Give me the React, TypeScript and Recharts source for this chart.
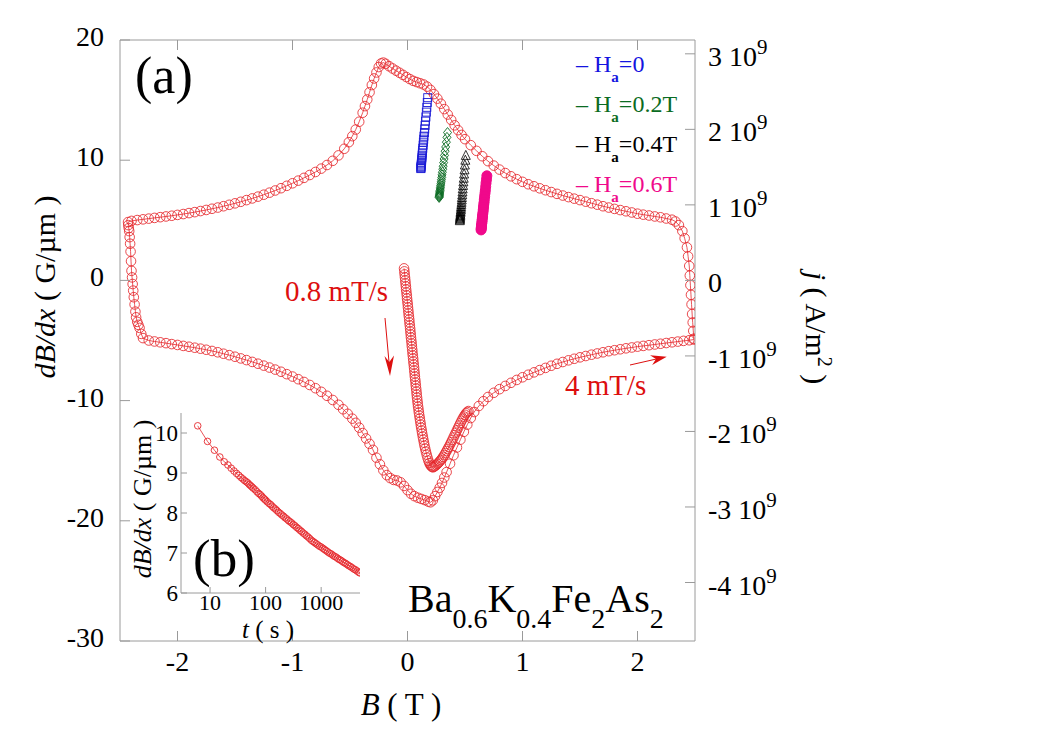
import React from 'react';
import { ScatterChart, Scatter, XAxis, YAxis } from 'recharts';

const SERIF = "'Liberation Serif', 'Times New Roman', Times, serif";
const AXIS_GREY = '#9a9a9a';
const LOOP_RED = '#e5282d';
const TEXT_RED = '#dd0f0f';

// axis ticks
const bTicks = [-2, -1, 0, 1, 2];
const dbdxTicks = [-30, -20, -10, 0, 10, 20];
const jTicks = [-4e9, -3e9, -2e9, -1e9, 0, 1e9, 2e9, 3e9];
const J_PER_G = 1.5915e8; // A/m^2 per G/um (2/mu0 * 100 T/m)
const insetTTicks = [10, 100, 1000];
const insetYTicks = [6, 7, 8, 9, 10];

// main loop, 4 mT/s : upper branch (B going down from +2.5)
const upperB = [2.49, 2.485, 2.48, 2.475, 2.47, 2.465, 2.46, 2.455, 2.45, 2.44, 2.43, 2.41, 2.39, 2.36, 2.33, 2.3,
  2.25, 2.2, 2.15, 2.1, 2.05, 2.0, 1.95, 1.9, 1.85, 1.8, 1.75, 1.7, 1.65, 1.6, 1.55, 1.5, 1.45, 1.4, 1.35, 1.3,
  1.25, 1.2, 1.15, 1.1, 1.05, 1.0, 0.95, 0.9, 0.85, 0.8, 0.75, 0.7, 0.65, 0.6, 0.55, 0.5, 0.47, 0.44, 0.41, 0.38,
  0.35, 0.32, 0.29, 0.26, 0.23, 0.2, 0.17, 0.14, 0.11, 0.08, 0.05, 0.02, -0.01, -0.04, -0.07, -0.1, -0.13, -0.16,
  -0.19, -0.21, -0.23, -0.25, -0.27, -0.29, -0.31, -0.33, -0.35, -0.37, -0.39, -0.42, -0.45, -0.48, -0.51, -0.55,
  -0.6, -0.65, -0.7, -0.75, -0.8, -0.85, -0.9, -0.95, -1.0, -1.05, -1.1, -1.15, -1.2, -1.25, -1.3, -1.35, -1.4,
  -1.45, -1.5, -1.55, -1.6, -1.65, -1.7, -1.75, -1.8, -1.85, -1.9, -1.95, -2.0, -2.05, -2.1, -2.15, -2.2, -2.25,
  -2.3, -2.35, -2.4, -2.43];
const upperY = [-4.85, -4.2, -3.5, -2.8, -2.0, -1.2, -0.4, 0.4, 1.2, 2.0, 2.75, 3.5, 4.1, 4.6, 4.9, 5.05,
  5.15, 5.25, 5.32, 5.4, 5.47, 5.55, 5.65, 5.75, 5.85, 5.95, 6.06, 6.17, 6.3, 6.42, 6.55, 6.68, 6.8, 6.93, 7.06, 7.2,
  7.35, 7.5, 7.66, 7.83, 8.0, 8.2, 8.42, 8.66, 8.93, 9.22, 9.55, 9.92, 10.33, 10.78, 11.25, 11.75, 12.1, 12.5, 12.9, 13.35,
  13.8, 14.25, 14.7, 15.12, 15.5, 15.85, 16.12, 16.3, 16.4, 16.5, 16.6, 16.75, 16.92, 17.1, 17.28, 17.45, 17.63, 17.82,
  18.02, 18.12, 18.05, 17.75, 17.3, 16.8, 16.25, 15.65, 15.05, 14.5, 13.95, 13.2, 12.55, 12.0, 11.5, 10.95,
  10.4, 9.95, 9.6, 9.3, 9.02, 8.77, 8.53, 8.3, 8.08, 7.87, 7.67, 7.48, 7.3, 7.13, 6.97, 6.82, 6.68,
  6.54, 6.41, 6.29, 6.17, 6.06, 5.96, 5.86, 5.77, 5.68, 5.6, 5.52, 5.45, 5.38, 5.32, 5.26, 5.2, 5.14,
  5.08, 5.02, 4.95, 4.85];

// turn-around at -2.5 T
const leftB = [-2.428, -2.424, -2.42, -2.416, -2.412, -2.408, -2.404, -2.4, -2.395, -2.39, -2.385, -2.38, -2.373,
  -2.366, -2.36, -2.35, -2.34, -2.33, -2.315, -2.3];
const leftY = [4.6, 4.35, 4.1, 3.6, 3.05, 2.4, 1.6, 0.8, 0.25, -0.3, -0.85, -1.4, -2.0, -2.6, -3.07, -3.45, -3.7,
  -3.95, -4.45, -4.8];

// lower branch (B going up)
const lowerB = [-2.25, -2.2, -2.15, -2.1, -2.05, -2.0, -1.95, -1.9, -1.85, -1.8, -1.75, -1.7, -1.65, -1.6, -1.55,
  -1.5, -1.45, -1.4, -1.35, -1.3, -1.25, -1.2, -1.15, -1.1, -1.05, -1.0, -0.95, -0.9, -0.85, -0.8, -0.75, -0.7,
  -0.65, -0.6, -0.56, -0.52, -0.48, -0.45, -0.42, -0.39, -0.36, -0.33, -0.3, -0.27, -0.24, -0.21, -0.18, -0.15,
  -0.12, -0.09, -0.06, -0.03, 0.0, 0.03, 0.06, 0.09, 0.12, 0.15, 0.18, 0.2, 0.22, 0.24, 0.26, 0.28, 0.3, 0.32, 0.34,
  0.37, 0.4, 0.43, 0.46, 0.49, 0.52, 0.55, 0.58, 0.62, 0.66, 0.7, 0.75, 0.8, 0.85, 0.9, 0.95, 1.0, 1.05, 1.1, 1.15,
  1.2, 1.25, 1.3, 1.35, 1.4, 1.45, 1.5, 1.55, 1.6, 1.65, 1.7, 1.75, 1.8, 1.85, 1.9, 1.95, 2.0, 2.05, 2.1, 2.15, 2.2,
  2.25, 2.3, 2.35, 2.4, 2.45, 2.49];
const lowerY = [-5.0, -5.08, -5.15, -5.22, -5.3, -5.37, -5.45, -5.52, -5.6, -5.68, -5.77, -5.87, -5.98, -6.1, -6.22,
  -6.35, -6.49, -6.63, -6.78, -6.93, -7.09, -7.25, -7.42, -7.6, -7.8, -8.0, -8.22, -8.45, -8.7, -8.97, -9.27, -9.6,
  -9.95, -10.35, -10.72, -11.1, -11.5, -11.85, -12.25, -12.7, -13.15, -13.6, -14.1, -14.75, -15.3, -15.8, -16.2, -16.45,
  -16.6, -16.65, -16.8, -17.1, -17.45, -17.75, -17.95, -18.08, -18.18, -18.28, -18.4, -18.46, -18.3, -17.95, -17.6,
  -17.25, -16.85, -16.4, -15.95, -15.25, -14.55, -13.9, -13.25, -12.6, -12.0, -11.45, -10.95, -10.45, -10.05, -9.7,
  -9.35, -9.05, -8.78, -8.52, -8.28, -8.06, -7.85, -7.65, -7.46, -7.28, -7.1, -6.94, -6.79, -6.65, -6.52, -6.4,
  -6.29, -6.18, -6.08, -5.98, -5.89, -5.81, -5.73, -5.65, -5.58, -5.51, -5.45, -5.39, -5.33, -5.27, -5.21, -5.15,
  -5.09, -5.03, -4.98, -4.92];

// slow sweep 0.8 mT/s starting near B = 0
const sweepB = [-0.03, -0.027, -0.025, -0.022, -0.019, -0.017, -0.014, -0.012, -0.009, -0.006, -0.004, -0.001, 0.002,
  0.004, 0.007, 0.009, 0.012, 0.015, 0.017, 0.02, 0.023, 0.025, 0.028, 0.03, 0.033, 0.036, 0.038, 0.041, 0.043, 0.046,
  0.049, 0.051, 0.054, 0.057, 0.059, 0.062, 0.064, 0.067, 0.07, 0.072, 0.075, 0.078, 0.08, 0.083, 0.086, 0.089,
  0.092, 0.096, 0.099, 0.103, 0.107, 0.111, 0.115, 0.119, 0.124, 0.128, 0.133, 0.138, 0.143, 0.148, 0.154, 0.16,
  0.167, 0.174, 0.182, 0.19, 0.198, 0.206, 0.214, 0.222, 0.23, 0.24, 0.25, 0.26, 0.27, 0.28, 0.29, 0.3, 0.31, 0.32,
  0.33, 0.34, 0.35, 0.36, 0.37, 0.38, 0.39, 0.4, 0.41, 0.42, 0.43, 0.44, 0.45, 0.46, 0.47, 0.48, 0.49, 0.5, 0.51,
  0.52, 0.53];
const sweepY = [1.0, 0.75, 0.5, 0.25, 0.0, -0.25, -0.5, -0.75, -1.0, -1.25, -1.5, -1.75, -2.0, -2.25, -2.5, -2.75,
  -3.0, -3.25, -3.5, -3.75, -4.0, -4.25, -4.5, -4.75, -5.0, -5.25, -5.5, -5.75, -6.0, -6.25, -6.5, -6.75, -7.0,
  -7.25, -7.5, -7.75, -8.0, -8.25, -8.5, -8.75, -9.0, -9.25, -9.5, -9.75, -10.0, -10.25, -10.5, -10.75, -11.0,
  -11.25, -11.5, -11.75, -12.0, -12.25, -12.5, -12.75, -13.0, -13.25, -13.5, -13.75, -14.0, -14.25, -14.5, -14.75,
  -15.0, -15.2, -15.35, -15.45, -15.52, -15.55, -15.5, -15.44, -15.36, -15.27, -15.17, -15.06, -14.94, -14.82,
  -14.68, -14.53, -14.37, -14.2, -14.02, -13.84, -13.65, -13.46, -13.27, -13.07, -12.87, -12.67, -12.47, -12.27,
  -12.07, -11.87, -11.68, -11.5, -11.33, -11.18, -11.05, -10.95, -10.87];

// relaxation runs at fixed applied field
const ha0B = [0.176, 0.172, 0.168, 0.164, 0.16, 0.156, 0.153, 0.15, 0.147, 0.143, 0.141, 0.138, 0.136, 0.133, 0.131,
  0.129, 0.127, 0.126, 0.124, 0.123, 0.121, 0.12, 0.119, 0.118, 0.117, 0.117, 0.116];
const ha0Y = [15.2, 14.8, 14.4, 14.0, 13.6, 13.25, 12.9, 12.6, 12.3, 12.0, 11.75, 11.5, 11.25, 11.0, 10.8, 10.6, 10.42,
  10.25, 10.1, 9.95, 9.82, 9.7, 9.6, 9.5, 9.42, 9.35, 9.3];
const ha2B = [0.348, 0.343, 0.338, 0.332, 0.327, 0.322, 0.318, 0.314, 0.31, 0.307, 0.303, 0.3, 0.298, 0.295, 0.293,
  0.29, 0.288, 0.286, 0.285, 0.283, 0.281, 0.28, 0.279, 0.278, 0.277, 0.276, 0.275];
const ha2Y = [12.3, 11.9, 11.5, 11.1, 10.75, 10.4, 10.1, 9.8, 9.5, 9.25, 9.0, 8.78, 8.57, 8.38, 8.2, 8.03, 7.88, 7.74,
  7.61, 7.49, 7.38, 7.28, 7.19, 7.11, 7.03, 6.96, 6.9];
const ha4B = [0.507, 0.503, 0.499, 0.496, 0.492, 0.489, 0.486, 0.483, 0.48, 0.478, 0.476, 0.473, 0.472, 0.47, 0.468,
  0.466, 0.465, 0.464, 0.462, 0.461, 0.46, 0.459, 0.458, 0.457, 0.457, 0.456, 0.455];
const ha4Y = [10.4, 10.0, 9.6, 9.2, 8.85, 8.5, 8.2, 7.9, 7.62, 7.36, 7.12, 6.9, 6.7, 6.5, 6.32, 6.15, 6.0, 5.86, 5.73,
  5.61, 5.5, 5.4, 5.31, 5.22, 5.14, 5.05, 4.97];
const ha6B = [0.69, 0.687, 0.683, 0.68, 0.677, 0.674, 0.671, 0.668, 0.666, 0.663, 0.661, 0.659, 0.657, 0.654, 0.653,
  0.651, 0.649, 0.648, 0.646, 0.644, 0.643, 0.642, 0.641, 0.64];
const ha6Y = [8.7, 8.4, 8.1, 7.8, 7.5, 7.25, 7.0, 6.75, 6.5, 6.3, 6.1, 5.9, 5.7, 5.5, 5.35, 5.2, 5.05, 4.9, 4.75, 4.6,
  4.5, 4.4, 4.3, 4.2];

// inset (b): relaxation dB/dx vs t (s)
const insetT = [6, 9, 12, 15, 18, 21, 24, 27, 30, 33, 36, 39, 42, 45, 48, 51, 54, 57, 60, 65, 70, 75, 80, 85, 90, 95,
  100, 107, 115, 123, 131, 140, 150, 160, 171, 183, 196, 210, 225, 241, 258, 276, 295, 316, 338, 362, 387, 414, 443,
  474, 507, 543, 581, 622, 665, 712, 762, 815, 872, 933, 998, 1068, 1143, 1223, 1309, 1400, 1498, 1603, 1715, 1835,
  1964, 2101, 2248, 2406, 2574, 2754, 2947, 3153, 3374, 3610, 3863, 4133, 4422, 4732, 5000];
const insetY = [10.18, 9.79, 9.57, 9.4, 9.28, 9.2, 9.12, 9.05, 8.99, 8.94, 8.89, 8.85, 8.81, 8.78, 8.75, 8.71, 8.68,
  8.65, 8.62, 8.58, 8.53, 8.49, 8.46, 8.42, 8.38, 8.35, 8.32, 8.28, 8.24, 8.21, 8.17, 8.13, 8.1, 8.06, 8.02, 7.99,
  7.95, 7.92, 7.88, 7.85, 7.81, 7.78, 7.75, 7.71, 7.68, 7.64, 7.61, 7.57, 7.54, 7.5, 7.47, 7.43, 7.4, 7.36, 7.32,
  7.29, 7.26, 7.23, 7.2, 7.17, 7.15, 7.12, 7.09, 7.06, 7.03, 7.0, 6.98, 6.95, 6.92, 6.9, 6.87, 6.84, 6.82, 6.79, 6.76,
  6.74, 6.71, 6.68, 6.66, 6.63, 6.6, 6.58, 6.55, 6.52, 6.5];

const zip = (xs: number[], ys: number[]) => xs.map((x, i) => ({ x, y: ys[i] }));
const loopData = [...zip(upperB, upperY), ...zip(leftB, leftY), ...zip(lowerB, lowerY)];
const sweepData = zip(sweepB, sweepY);
const insetData = zip(insetT, insetY);

const openCircle = (r: number, color: string, sw: number) => (p: any) =>
  p.cx == null ? <g /> : <circle cx={p.cx} cy={p.cy} r={r} fill="none" stroke={color} strokeWidth={sw} />;
const openSquare = (p: any) =>
  p.cx == null ? <g /> : <rect x={p.cx - 4} y={p.cy - 4} width={8} height={8} fill="none" stroke="#1a1ad6" strokeWidth={0.9} />;
const openDiamond = (p: any) =>
  p.cx == null ? <g /> : (
    <polygon points={`${p.cx},${p.cy - 5} ${p.cx + 4},${p.cy} ${p.cx},${p.cy + 5} ${p.cx - 4},${p.cy}`}
      fill="none" stroke="#0b6b22" strokeWidth={0.9} />
  );
const openTriangle = (p: any) =>
  p.cx == null ? <g /> : (
    <polygon points={`${p.cx},${p.cy - 5} ${p.cx + 4.5},${p.cy + 4} ${p.cx - 4.5},${p.cy + 4}`}
      fill="none" stroke="#000" strokeWidth={0.8} />
  );
const filledDot = (p: any) =>
  p.cx == null ? <g /> : <circle cx={p.cx} cy={p.cy} r={5} fill="#f0098b" stroke="#f0098b" />;

const BottomTick = (p: any) => (
  <g>
    <line x1={p.x} y1={p.y} x2={p.x} y2={p.y - 10} stroke={AXIS_GREY} />
    <text x={p.x} y={p.y + 30} textAnchor="middle" fontSize={28} fontFamily={SERIF} fill="#000">
      {p.payload.value}
    </text>
  </g>
);
const TopTick = (p: any) => <line x1={p.x} y1={p.y} x2={p.x} y2={p.y + 10} stroke={AXIS_GREY} />;
const LeftTick = (p: any) => (
  <g>
    <line x1={p.x} y1={p.y} x2={p.x + 10} y2={p.y} stroke={AXIS_GREY} />
    <text x={p.x - 16} y={p.y + 6} textAnchor="end" fontSize={28} fontFamily={SERIF} fill="#000">
      {p.payload.value}
    </text>
  </g>
);
const RightTick = (p: any) => {
  const v = p.payload.value;
  return (
    <g>
      <line x1={p.x} y1={p.y} x2={p.x - 10} y2={p.y} stroke={AXIS_GREY} />
      <text x={p.x + 13} y={p.y + 12} fontSize={28} fontFamily={SERIF} fill="#000">
        {v === 0 ? '0' : `${Math.round(v / 1e9)} 10`}
        {v !== 0 && <tspan fontSize={21} dy={-12}>9</tspan>}
      </text>
    </g>
  );
};
const InsetBottomTick = (p: any) => (
  <g>
    <line x1={p.x} y1={p.y} x2={p.x} y2={p.y - 6} stroke={AXIS_GREY} />
    <text x={p.x} y={p.y + 17} textAnchor="middle" fontSize={22} fontFamily={SERIF} fill="#000">
      {p.payload.value}
    </text>
  </g>
);
const InsetLeftTick = (p: any) => (
  <g>
    <line x1={p.x} y1={p.y} x2={p.x + 6} y2={p.y} stroke={AXIS_GREY} />
    <text x={p.x - 3} y={p.y + 8} textAnchor="end" fontSize={23} fontFamily={SERIF} fill="#000">
      {p.payload.value}
    </text>
  </g>
);

const legendRows = [
  { label: '=0', color: '#1414e0', y: 72 },
  { label: '=0.2T', color: '#0b6b22', y: 112 },
  { label: '=0.4T', color: '#000000', y: 152 },
  { label: '=0.6T', color: '#f0098b', y: 192 },
];

export default function App() {
  return (
    <div style={{ position: 'absolute', left: 0, top: 0, width: 1063, height: 751, background: '#fff' }}>
      <ScatterChart width={1063} height={751} margin={{ top: 0, right: 0, bottom: 0, left: 0 }}>
        <XAxis xAxisId="b" type="number" dataKey="x" domain={[-2.5, 2.5]} ticks={bTicks} interval={0}
          orientation="bottom" height={110} allowDataOverflow stroke={AXIS_GREY}
          tickLine={false} tickSize={0} tickMargin={0} tick={(p: any) => <BottomTick {...p} />} />
        <XAxis xAxisId="t" type="number" dataKey="x" domain={[-2.5, 2.5]} ticks={bTicks} interval={0}
          orientation="top" height={40} allowDataOverflow stroke={AXIS_GREY}
          tickLine={false} tickSize={0} tickMargin={0} tick={(p: any) => <TopTick {...p} />} />
        <YAxis yAxisId="l" type="number" dataKey="y" domain={[-30, 20]} ticks={dbdxTicks} interval={0}
          width={120} allowDataOverflow stroke={AXIS_GREY}
          tickLine={false} tickSize={0} tickMargin={0} tick={(p: any) => <LeftTick {...p} />} />
        <YAxis yAxisId="r" type="number" orientation="right" domain={[-30 * J_PER_G, 20 * J_PER_G]} ticks={jTicks}
          interval={0} width={368} allowDataOverflow stroke={AXIS_GREY}
          tickLine={false} tickSize={0} tickMargin={0} tick={(p: any) => <RightTick {...p} />} />
        <Scatter xAxisId="b" yAxisId="l" data={loopData} isAnimationActive={false}
          line={{ stroke: LOOP_RED, strokeWidth: 0.8 }} lineType="joint" shape={openCircle(4.8, LOOP_RED, 0.85)} />
        <Scatter xAxisId="b" yAxisId="l" data={sweepData} isAnimationActive={false}
          line={{ stroke: LOOP_RED, strokeWidth: 0.8 }} lineType="joint" shape={openCircle(4.8, LOOP_RED, 0.85)} />
        <Scatter xAxisId="b" yAxisId="l" data={zip(ha0B, ha0Y)} isAnimationActive={false} shape={openSquare} />
        <Scatter xAxisId="b" yAxisId="l" data={zip(ha2B, ha2Y)} isAnimationActive={false} shape={openDiamond} />
        <Scatter xAxisId="b" yAxisId="l" data={zip(ha4B, ha4Y)} isAnimationActive={false} shape={openTriangle} />
        <Scatter xAxisId="b" yAxisId="l" data={zip(ha6B, ha6Y)} isAnimationActive={false} shape={filledDot} />
      </ScatterChart>

      <div style={{ position: 'absolute', left: 100, top: 400 }}>
        <ScatterChart width={280} height={240} margin={{ top: 13, right: 20, bottom: 0, left: 0 }}>
          <XAxis type="number" dataKey="x" scale="log" domain={[3, 5000]} ticks={insetTTicks} interval={0}
            height={47} allowDataOverflow stroke={AXIS_GREY}
            tickLine={false} tickSize={0} tickMargin={0} tick={(p: any) => <InsetBottomTick {...p} />} />
          <YAxis type="number" dataKey="y" domain={[6, 10.5]} ticks={insetYTicks} interval={0}
            width={81} allowDataOverflow stroke={AXIS_GREY}
            tickLine={false} tickSize={0} tickMargin={0} tick={(p: any) => <InsetLeftTick {...p} />} />
          <Scatter data={insetData} isAnimationActive={false}
            line={{ stroke: LOOP_RED, strokeWidth: 0.8 }} lineType="joint" shape={openCircle(3.3, LOOP_RED, 0.9)} />
        </ScatterChart>
      </div>

      <svg width={1063} height={751} style={{ position: 'absolute', left: 0, top: 0, pointerEvents: 'none' }}
        fontFamily={SERIF}>
        <text x={135} y={93} fontSize={52}>(a)</text>
        <text x={193} y={576} fontSize={53}>(b)</text>

        {legendRows.map((r) => (
          <text key={r.label} x={576} y={r.y} fontSize={24} fill={r.color}>
            {'– H'}
            <tspan fontSize={15} fontWeight="bold" dy={10}>a</tspan>
            <tspan dy={-10}>{r.label}</tspan>
          </text>
        ))}

        <text x={285} y={301} fontSize={29} fill={TEXT_RED}>0.8 mT/s</text>
        <line x1={385} y1={318} x2={389} y2={362} stroke={TEXT_RED} strokeWidth={1} />
        <polygon points="390,376 384.5,356 389.3,362 394,355.5" fill={TEXT_RED} />

        <text x={565} y={395} fontSize={29} fill={TEXT_RED}>4 mT/s</text>
        <line x1={630} y1={365} x2={656} y2={359.1} stroke={TEXT_RED} strokeWidth={1} />
        <polygon points="666.7,356.7 652.2,365.1 656,359.1 650,355.3" fill={TEXT_RED} />

        <text x={408} y={612} fontSize={40}>
          Ba<tspan fontSize={28} dy={16}>0.6</tspan>
          <tspan dy={-16}>K</tspan><tspan fontSize={28} dy={16}>0.4</tspan>
          <tspan dy={-16}>Fe</tspan><tspan fontSize={28} dy={16}>2</tspan>
          <tspan dy={-16}>As</tspan><tspan fontSize={28} dy={16}>2</tspan>
        </text>

        <text transform="translate(55,287) rotate(-90)" textAnchor="middle" fontSize={30}>
          <tspan fontStyle="italic">dB/dx</tspan> ( G/µm )
        </text>
        <text transform="translate(806,328) rotate(90)" textAnchor="middle" fontSize={30}>
          <tspan fontStyle="italic">j</tspan> ( A/m<tspan fontSize={20} dy={-12}>2</tspan><tspan dy={12}> )</tspan>
        </text>
        <text x={401} y={715} textAnchor="middle" fontSize={31}>
          <tspan fontStyle="italic">B</tspan> ( T )
        </text>

        <text transform="translate(151,499) rotate(-90)" textAnchor="middle" fontSize={26}>
          <tspan fontStyle="italic">dB/dx</tspan> ( G/µm )
        </text>
        <text x={268} y={638} textAnchor="middle" fontSize={25}>
          <tspan fontStyle="italic">t</tspan> ( s )
        </text>
      </svg>
    </div>
  );
}
